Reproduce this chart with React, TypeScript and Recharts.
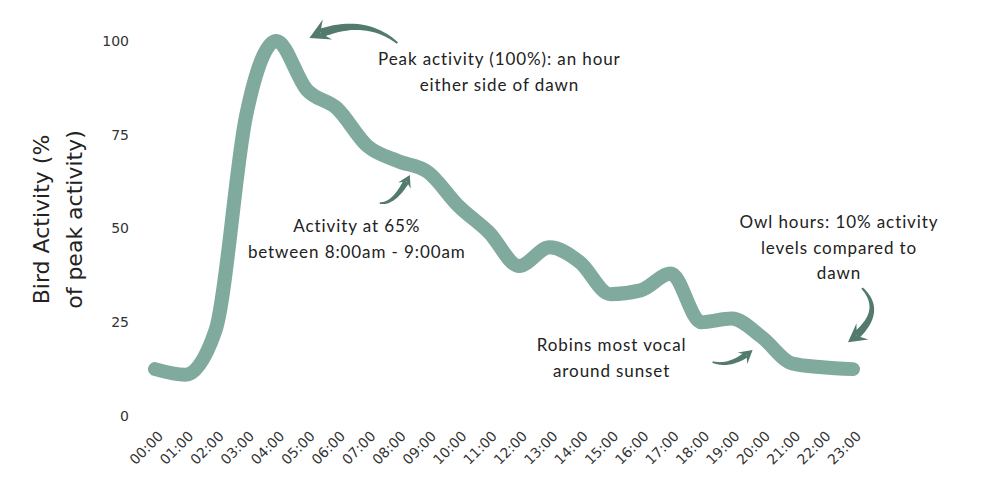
import { LineChart, Line, XAxis, YAxis, ReferenceDot } from "recharts";

const hours = [
  "00:00", "01:00", "02:00", "03:00", "04:00", "05:00", "06:00", "07:00",
  "08:00", "09:00", "10:00", "11:00", "12:00", "13:00", "14:00", "15:00",
  "16:00", "17:00", "18:00", "19:00", "20:00", "21:00", "22:00", "23:00",
];
const activity = [
  12.5, 11, 23, 80, 100, 87, 82, 72, 68, 65, 56, 49,
  40, 45, 41, 32.5, 33.5, 38, 25, 26, 21, 14, 13, 12.5,
];
const yTicks = [0, 25, 50, 75, 100];
const yTitle = ["Bird Activity (%", "of peak activity)"];

const peakNote = ["Peak activity (100%): an hour", "either side of dawn"];
const morningNote = ["Activity at 65%", "between 8:00am - 9:00am"];
const robinNote = ["Robins most vocal", "around sunset"];
const owlNote = ["Owl hours: 10% activity", "levels compared to", "dawn"];

const data = hours.map((hour, i) => ({ hour, activity: activity[i] }));

const LINE = "#80aa9d";
const ARROW = "#537a6e";
const TEXT = "#222";

type Pt = [number, number];

const quad = (t: number, a: Pt, c: Pt, b: Pt): Pt => [
  (1 - t) * (1 - t) * a[0] + 2 * (1 - t) * t * c[0] + t * t * b[0],
  (1 - t) * (1 - t) * a[1] + 2 * (1 - t) * t * c[1] + t * t * b[1],
];
const quadD = (t: number, a: Pt, c: Pt, b: Pt): Pt => [
  2 * (1 - t) * (c[0] - a[0]) + 2 * t * (b[0] - c[0]),
  2 * (1 - t) * (c[1] - a[1]) + 2 * t * (b[1] - c[1]),
];
const unit = (v: Pt): Pt => {
  const l = Math.hypot(v[0], v[1]) || 1;
  return [v[0] / l, v[1] / l];
};

// curved, tapering arrow from tail to tip
function Arrow({ tail, ctrl, tip, len, half, w0, w1 }: any) {
  const dir = unit([tip[0] - ctrl[0], tip[1] - ctrl[1]]);
  const nrm: Pt = [-dir[1], dir[0]];
  const notch: Pt = [tip[0] - dir[0] * len * 0.6, tip[1] - dir[1] * len * 0.6];
  let tEnd = 1;
  for (let t = 1; t > 0; t -= 0.01) {
    const p = quad(t, tail, ctrl, tip);
    if (Math.hypot(p[0] - tip[0], p[1] - tip[1]) >= len * 0.6) {
      tEnd = t;
      break;
    }
  }
  const left: Pt[] = [];
  const right: Pt[] = [];
  const N = 30;
  for (let i = 0; i <= N; i++) {
    const t = (tEnd * i) / N;
    const p = quad(t, tail, ctrl, tip);
    const d = unit(quadD(t, tail, ctrl, tip));
    const w = w0 + ((w1 - w0) * i) / N;
    left.push([p[0] - d[1] * w, p[1] + d[0] * w]);
    right.push([p[0] + d[1] * w, p[1] - d[0] * w]);
  }
  const body =
    "M" + left.map((p) => p.join(",")).join(" L") +
    " L" + right.reverse().map((p) => p.join(",")).join(" L") + " Z";
  const back: Pt = [tip[0] - dir[0] * len, tip[1] - dir[1] * len];
  const head = `M${tip[0]},${tip[1]} L${back[0] + nrm[0] * half},${back[1] + nrm[1] * half} L${notch[0]},${notch[1]} L${back[0] - nrm[0] * half},${back[1] - nrm[1] * half} Z`;
  return (
    <g fill={ARROW}>
      <path d={body} />
      <path d={head} />
    </g>
  );
}

function Note(props: any) {
  const { cx, cy, lines, tx, ty, tail, ctrl, tip, len, half, w0, w1 } = props;
  const off = (p: Pt): Pt => [cx + p[0], cy + p[1]];
  return (
    <g>
      <Arrow tail={off(tail)} ctrl={off(ctrl)} tip={off(tip)} len={len} half={half} w0={w0} w1={w1} />
      <text
        x={cx + tx}
        y={cy + ty}
        textAnchor="middle"
        fontFamily="Lato"
        fontSize={17}
        letterSpacing={0.9}
        fill={TEXT}
      >
        {lines.map((l: string, i: number) => (
          <tspan key={i} x={cx + tx} dy={i === 0 ? 0 : 25.5}>
            {l}
          </tspan>
        ))}
      </text>
    </g>
  );
}

function HourTick({ x, y, payload }: any) {
  return (
    <text
      transform={`translate(${x + 9},${y + 21}) rotate(-45)`}
      textAnchor="end"
      fontFamily="DejaVu Sans"
      fontSize={14}
      fill="#333"
    >
      {payload.value}
    </text>
  );
}

function YTitle({ viewBox }: any) {
  const cy = viewBox.y + viewBox.height / 2 - 9;
  return (
    <g fontFamily="DejaVu Sans" fontSize={22} fill={TEXT}>
      {yTitle.map((l, i) => {
        const x = viewBox.x + 41 + i * 33;
        return (
          <text key={i} x={x} y={cy} textAnchor="middle" transform={`rotate(-90 ${x} ${cy})`}>
            {l}
          </text>
        );
      })}
    </g>
  );
}

export default function App() {
  return (
    <LineChart width={1000} height={500} data={data} margin={{ top: 33, right: 155, bottom: 0, left: 0 }}>
      <XAxis
        dataKey="hour"
        interval={0}
        axisLine={false}
        tickLine={false}
        tickSize={0}
        tickMargin={0}
        height={92}
        tick={<HourTick />}
      />
      <YAxis
        domain={[0, 100]}
        ticks={yTicks}
        width={147}
        axisLine={false}
        tickLine={false}
        tickSize={0}
        tickMargin={26}
        tick={{ fontFamily: "DejaVu Sans", fontSize: 14, fill: "#333" }}
        label={(p: any) => <YTitle {...p} />}
      />
      <Line
        type="monotone"
        dataKey="activity"
        stroke={LINE}
        strokeWidth={14}
        strokeLinecap="round"
        strokeLinejoin="round"
        dot={false}
        activeDot={false}
        isAnimationActive={false}
      />
      <ReferenceDot
        x="04:00"
        y={100}
        r={0}
        ifOverflow="visible"
        shape={(p: any) => (
          <Note {...p} lines={peakNote} tx={223} ty={24}
            tail={[121, 2]} ctrl={[85, -27.5]} tip={[33, -3]} len={20} half={11} w0={1} w1={4.5} />
        )}
      />
      <ReferenceDot
        x="08:00"
        y={68}
        r={0}
        ifOverflow="visible"
        shape={(p: any) => (
          <Note {...p} lines={morningNote} tx={-41} ty={71}
            tail={[-18, 42]} ctrl={[-3, 44]} tip={[12, 14]} len={12} half={7} w0={0.8} w1={3} />
        )}
      />
      <ReferenceDot
        x="19:00"
        y={26}
        r={0}
        ifOverflow="visible"
        shape={(p: any) => (
          <Note {...p} lines={robinNote} tx={-120} ty={32.5}
            tail={[-19, 43.5]} ctrl={[-1, 49.5]} tip={[21, 31.5]} len={13} half={7.5} w0={0.8} w1={3} />
        )}
      />
      <ReferenceDot
        x="23:00"
        y={12.5}
        r={0}
        ifOverflow="visible"
        shape={(p: any) => (
          <Note {...p} lines={owlNote} tx={-14} ty={-141}
            tail={[9, -81]} ctrl={[34, -56]} tip={[-5, -27]} len={18} half={10} w0={1} w1={4} />
        )}
      />
    </LineChart>
  );
}
